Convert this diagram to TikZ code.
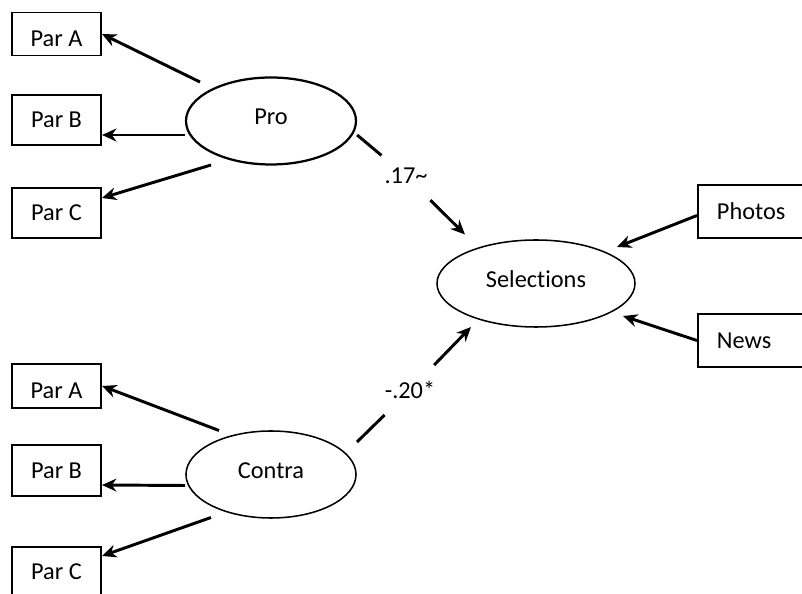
\documentclass[tikz,border=0pt]{standalone}
\usepackage{fontspec}
\setmainfont{Carlito}[Ligatures=NoCommon]
\usetikzlibrary{positioning,arrows.meta,shapes.geometric}

\begin{document}
\begin{tikzpicture}[
    font=\fontsize{17.3}{20}\selectfont,
    indicator/.style={rectangle, draw=black, line width=1.4pt, minimum width=2.225cm, minimum height=1.25cm, inner sep=2pt},
    toprow/.style={text height=18pt, text depth=0pt},
    covariate/.style={indicator, anchor=west, text width=2.2cm, align=left, inner xsep=0.475cm, minimum height=1.325cm},
    latent/.style={ellipse, draw=black, line width=1.1pt, minimum width=4.25cm, minimum height=2.175cm, inner sep=0pt, text height=11pt, text depth=5.8pt},
    coef/.style={inner xsep=2pt, inner ysep=0.4cm},
    link/.style={line width=2.1pt},
    loading/.style={-{Stealth[length=3.6mm,width=3.2mm]}, line width=2.1pt}
]
\useasboundingbox (0,0) rectangle (20.05,-14.85);
\clip (0,0) rectangle (20.05,-14.85);

\node[latent, line width=1.6pt] (Pro) at (6.775,-3.025) {Pro};
\node[latent] (Contra) at (6.775,-11.8625) {Contra};
\node[latent, minimum width=4.95cm] (Sel) at (13.4,-7.0875) {Selections};

\node[indicator, toprow, minimum height=1.075cm] (ParA1) at (1.4125,-0.85) {Par A};
\node[indicator] (ParB1) at (1.4125,-3.0) {Par B};
\node[indicator] (ParC1) at (1.4125,-5.325) {Par C};

\node[indicator, toprow, minimum height=1.1cm] (ParA2) at (1.4125,-9.65) {Par A};
\node[indicator, minimum height=1.275cm] (ParB2) at (1.4125,-11.7625) {Par B};
\node[indicator] (ParC2) at (1.4125,-14.3) {Par C};

\node[covariate] (Photos) at (17.425,-5.2875) {Photos};
\node[covariate] (News) at (17.425,-8.5125) {News};

\node[coef] (c17) at (10.15,-4.4) {.17\textasciitilde};
\node[coef] (c20) at (10.25,-9.75) {-.20*};

\draw[loading] ([shift={(-1.775,0.975)}]Pro.center) -- (ParA1.east);
\draw[loading] ([yshift=-0.35cm]Pro.west) -- ([yshift=-0.375cm]ParB1.east);
\draw[loading] ([shift={(-1.5,-1.1)}]Pro.center) -- ([yshift=0.375cm]ParC1.east);

\draw[loading] ([shift={(-1.3,1.1)}]Contra.center) -- (ParA2.east);
\draw[loading] ([yshift=-0.275cm]Contra.west) -- ([yshift=-0.3625cm]ParB2.east);
\draw[loading] ([shift={(-1.5,-1.075)}]Contra.center) -- ([yshift=0.4cm]ParC2.east);

\draw[link] ([yshift=-0.35cm]Pro.east) -- (c17);
\draw[loading] (c17) -- ([shift={(-1.775,1.225)}]Sel.center);
\draw[link] ([shift={(2.15,0.8125)}]Contra.center) -- (c20);
\draw[loading] (c20) -- ([shift={(-1.625,-1.0875)}]Sel.center);

\draw[loading] ([yshift=-0.1cm]Photos.west) -- ([shift={(2.025,0.9125)}]Sel.center);
\draw[loading] (News.west) -- ([shift={(2.175,-0.8125)}]Sel.center);
\end{tikzpicture}
\end{document}
